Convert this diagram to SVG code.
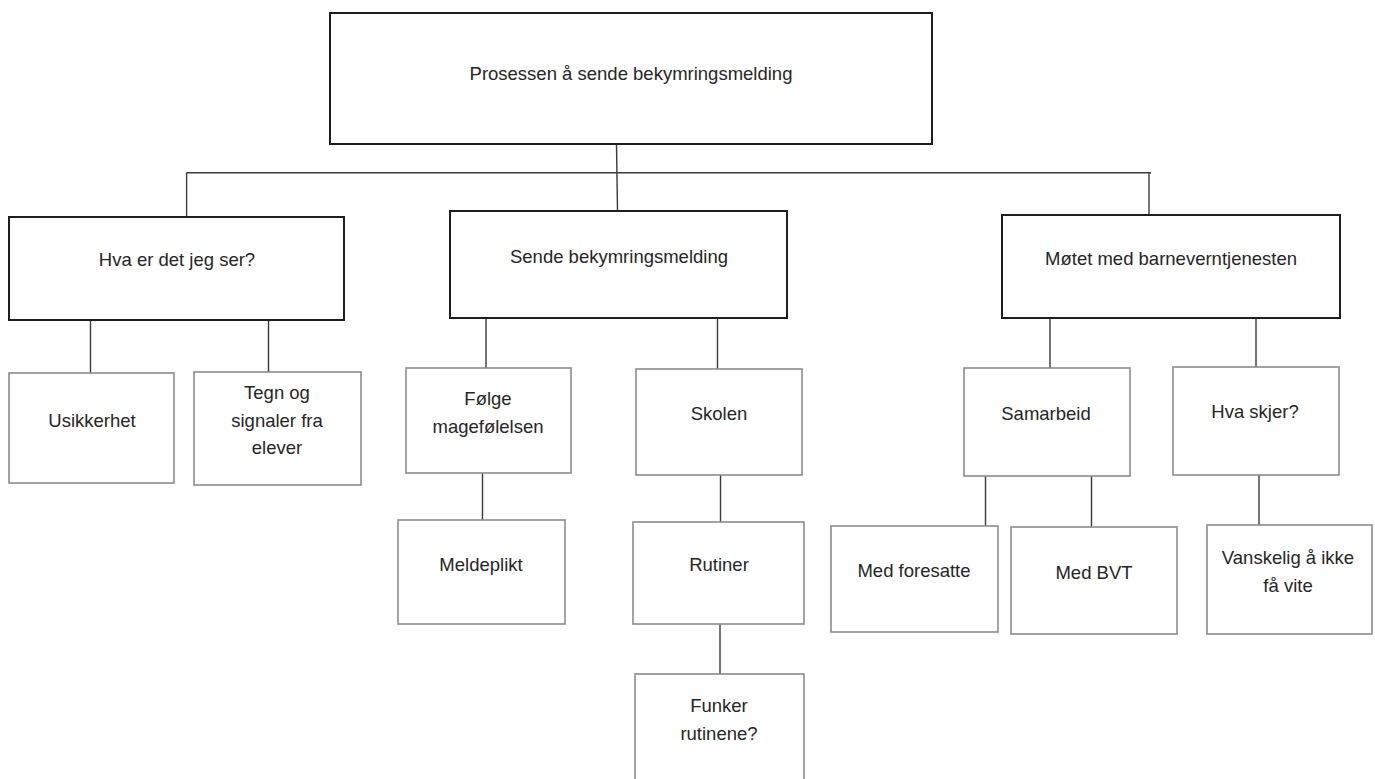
<svg xmlns="http://www.w3.org/2000/svg" width="1375" height="779" viewBox="0 0 1375 779">
<style>
.main{fill:#ffffff;stroke:#1e1e1e;stroke-width:2}
.sub{fill:#ffffff;stroke:#8c8c8c;stroke-width:1.6}
.lbl{font-family:"Liberation Sans",Arial,sans-serif;font-size:18.5px;fill:#262626;text-anchor:middle}
.con{fill:none;stroke:#3a3a3a;stroke-width:1.4}
</style>
<rect width="1375" height="779" fill="#ffffff"/>
<g id="connectors">
<path class="con" d="M616.5,144 L617.5,211"/>
<path class="con" d="M186.6,172.7 H1151"/>
<path class="con" d="M186.6,172.7 V217"/>
<path class="con" d="M1149,172.7 V215"/>
<path class="con" d="M90.5,320 V373"/>
<path class="con" d="M268.5,320 V372"/>
<path class="con" d="M486,318 V368"/>
<path class="con" d="M717.5,318 V369"/>
<path class="con" d="M482.5,473 V520"/>
<path class="con" d="M720.5,475 V522"/>
<path class="con" d="M720,624 V674"/>
<path class="con" d="M1050,318 V368"/>
<path class="con" d="M1256,318 V367"/>
<path class="con" d="M985.5,476 V526"/>
<path class="con" d="M1091.5,476 V527"/>
<path class="con" d="M1259,475 V525"/>
</g>
<g id="n-root"><rect class="main" x="330" y="13" width="602" height="131"/><text class="lbl" x="631" y="80">Prosessen å sende bekymringsmelding</text></g>
<g id="n-hva"><rect class="main" x="9" y="217" width="335" height="103"/><text class="lbl" x="177" y="266">Hva er det jeg ser?</text></g>
<g id="n-sende"><rect class="main" x="450" y="211" width="337" height="107"/><text class="lbl" x="619" y="263">Sende bekymringsmelding</text></g>
<g id="n-motet"><rect class="main" x="1002" y="215" width="338" height="103"/><text class="lbl" x="1171" y="265">Møtet med barneverntjenesten</text></g>
<g id="n-usikkerhet"><rect class="sub" x="9" y="373" width="165" height="110"/><text class="lbl" x="92" y="427">Usikkerhet</text></g>
<g id="n-tegn"><rect class="sub" x="194" y="372" width="167" height="113"/><text class="lbl" x="277" y="399">Tegn og</text><text class="lbl" x="277" y="427">signaler fra</text><text class="lbl" x="277" y="454">elever</text></g>
<g id="n-folge"><rect class="sub" x="406" y="368" width="165" height="105"/><text class="lbl" x="488" y="405">Følge</text><text class="lbl" x="488" y="433">magefølelsen</text></g>
<g id="n-skolen"><rect class="sub" x="636" y="369" width="166" height="106"/><text class="lbl" x="719" y="420">Skolen</text></g>
<g id="n-meldeplikt"><rect class="sub" x="398" y="520" width="167" height="104"/><text class="lbl" x="481" y="571">Meldeplikt</text></g>
<g id="n-rutiner"><rect class="sub" x="633" y="522" width="171" height="102"/><text class="lbl" x="719" y="571">Rutiner</text></g>
<g id="n-funker"><rect class="sub" x="635" y="674" width="169" height="112"/><text class="lbl" x="719" y="712">Funker</text><text class="lbl" x="719" y="740">rutinene?</text></g>
<g id="n-samarbeid"><rect class="sub" x="964" y="368" width="166" height="108"/><text class="lbl" x="1046" y="420">Samarbeid</text></g>
<g id="n-hvaskjer"><rect class="sub" x="1173" y="367" width="166" height="108"/><text class="lbl" x="1255" y="418">Hva skjer?</text></g>
<g id="n-foresatte"><rect class="sub" x="831" y="526" width="167" height="106"/><text class="lbl" x="914" y="577">Med foresatte</text></g>
<g id="n-bvt"><rect class="sub" x="1011" y="527" width="166" height="107"/><text class="lbl" x="1094" y="579">Med BVT</text></g>
<g id="n-vanskelig"><rect class="sub" x="1207" y="525" width="165" height="109"/><text class="lbl" x="1288" y="564">Vanskelig å ikke</text><text class="lbl" x="1288" y="592">få vite</text></g>
</svg>
